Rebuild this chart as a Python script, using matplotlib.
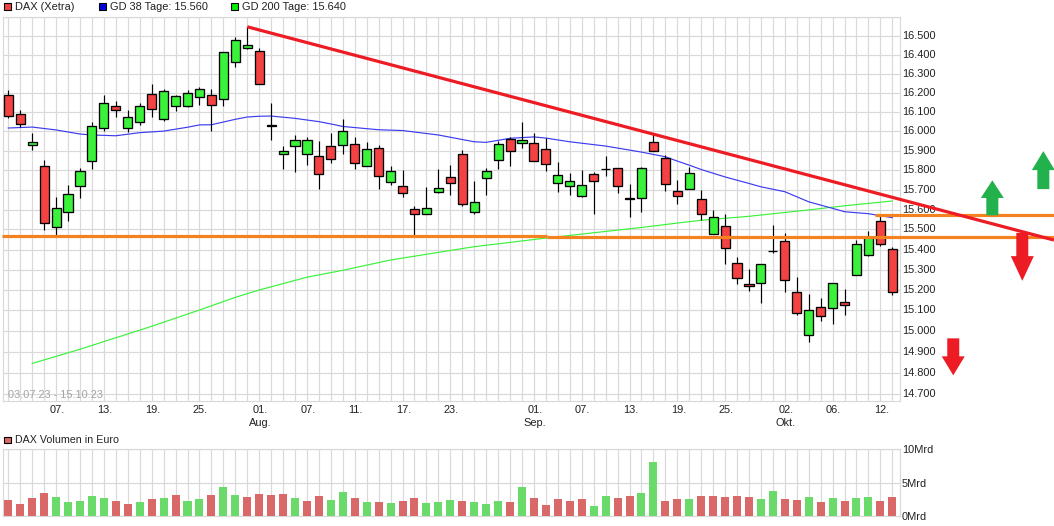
"""
DAX (Xetra) candlestick chart with moving averages, trend lines and volume panel.
Run: python plot.py  -> writes out.png
"""

import matplotlib
matplotlib.use("Agg")
import matplotlib.pyplot as plt
from matplotlib.patches import Polygon, Rectangle
from matplotlib.ticker import NullLocator
from matplotlib.transforms import ScaledTranslation

plt.rcParams["font.family"] = ["Liberation Sans", "DejaVu Sans"]

opens = [16189, 16087, 15930, 15819, 15514, 15586, 15717, 15845, 16015, 16128,
         16015, 16046, 16191, 16061, 16128, 16128, 16176, 16186, 16165, 16359,
         16436, 16417, 16030, 15881, 15922, 15881, 15870, 15922, 15927, 15932,
         15819, 15911, 15738, 15717, 15601, 15576, 15687, 15763, 15881, 15586,
         15758, 15850, 15958, 15940, 15937, 15906, 15732, 15717, 15667, 15781,
         15805, 15809, 15656, 15658, 15942, 15860, 15692, 15705, 15652, 15476,
         15516, 15331, 15228, 15233, 15395, 15441, 15189, 14980, 15116, 15110,
         15143, 15272, 15371, 15541, 15401]
closes = [16080, 16038, 15942, 15531, 15606, 15677, 15793, 16025, 16144, 16108,
          16072, 16128, 16113, 16207, 16181, 16196, 16217, 16134, 16412, 16476,
          16449, 16243, 16026, 15896, 15953, 15953, 15781, 15855, 15999, 15834,
          15906, 15768, 15793, 15682, 15576, 15606, 15707, 15732, 15626, 15636,
          15793, 15932, 15896, 15953, 15845, 15829, 15773, 15743, 15722, 15745,
          15805, 15717, 15652, 15809, 15896, 15727, 15667, 15785, 15576, 15561,
          15406, 15258, 15218, 15327, 15391, 15248, 15086, 15101, 15072, 15233,
          15129, 15426, 15462, 15426, 15189]
highs = [16214, 16108, 15990, 15850, 15663, 15724, 15809, 16049, 16188, 16156,
         16108, 16144, 16245, 16217, 16188, 16214, 16228, 16217, 16412, 16492,
         16548, 16433, 16144, 15923, 15980, 15970, 15949, 15990, 16063, 15968,
         15944, 15927, 15820, 15800, 15618, 15712, 15804, 15824, 15902, 15744,
         15810, 15949, 15971, 16045, 15989, 15963, 15841, 15785, 15800, 15790,
         15872, 15809, 15729, 15815, 15989, 15877, 15750, 15815, 15698, 15597,
         15577, 15363, 15303, 15327, 15521, 15480, 15264, 15180, 15161, 15233,
         15203, 15447, 15492, 15567, 15412]
lows = [16069, 16021, 15904, 15498, 15472, 15544, 15660, 15805, 16002, 16075,
        15997, 16033, 16075, 16054, 16106, 16123, 16137, 16002, 16131, 16336,
        16431, 16243, 15956, 15807, 15789, 15827, 15705, 15834, 15882, 15804,
        15819, 15705, 15725, 15665, 15472, 15576, 15682, 15675, 15619, 15579,
        15675, 15807, 15823, 15914, 15845, 15795, 15688, 15675, 15662, 15579,
        15771, 15685, 15564, 15589, 15896, 15695, 15630, 15702, 15547, 15476,
        15328, 15231, 15197, 15138, 15384, 15192, 15077, 14949, 15051, 15036,
        15080, 15272, 15366, 15416, 15177]

volumes = [2.44, 1.84, 2.74, 3.48, 2.89, 2.14, 2.29, 3.03, 2.74, 2.29,
           1.84, 2.14, 2.59, 2.74, 3.18, 2.29, 2.59, 3.18, 4.38, 3.18,
           2.89, 3.33, 3.18, 3.33, 2.74, 2.29, 3.03, 2.44, 3.63, 2.74,
           2.14, 2.14, 1.99, 2.29, 2.74, 1.99, 2.14, 2.44, 2.29, 2.14,
           1.84, 2.29, 2.14, 4.38, 2.74, 1.69, 2.59, 2.29, 2.59, 1.54,
           3.03, 2.74, 3.03, 3.48, 8.11, 2.29, 2.59, 2.59, 3.03, 3.03,
           2.89, 3.03, 2.89, 2.59, 3.78, 2.59, 2.44, 2.89, 2.14, 2.74,
           2.29, 2.74, 2.89, 2.29, 2.89]
volume_sides = "rrrrgggggrrgrgrggrggrrrrgrrggrgrgrrgggrgggrgrrrrrggrrggrrgrrrrrggrrgrgrggrr"

gd38_idx = [0, 2, 4, 6, 7, 9, 11, 13, 15, 16, 17, 19, 20, 21, 22, 24, 26, 27, 28, 31, 33,
            36, 39, 40, 42, 44, 45, 47, 50, 53, 55, 56, 57, 58, 60, 62, 63, 65, 67, 69,
            70, 72, 74]
gd38 = [16016, 16021, 16006, 15985, 15980, 15976, 15992, 16000, 16020, 16032, 16033,
        16061, 16073, 16077, 16078, 16066, 16049, 16037, 16024, 16007, 16003, 15980,
        15945, 15942, 15963, 15970, 15964, 15945, 15923, 15892, 15868, 15846, 15825,
        15803, 15765, 15732, 15715, 15690, 15639, 15606, 15589, 15579, 15559]

gd200_idx = [2, 6, 8, 12, 16, 19, 21, 25, 28, 32, 39, 45, 53, 56, 58, 62, 67, 70, 74]
gd200 = [14844, 14912, 14949, 15023, 15102, 15164, 15200, 15263, 15297, 15348, 15414,
         15457, 15510, 15532, 15546, 15566, 15598, 15619, 15643]

# (start index, start price, end index, end price)
trend_red = (20.0, 16548, 87.53, 15447)
support_left = (-0.49, 15466, 45.1, 15466)
support_right = (45.1, 15461, 87.53, 15461)
resistance = (72.55, 15571, 87.53, 15571)

# (index, tip price, colour, pointing up, head length px, shaft length px)
signal_arrows = [
    (82.37, 15748, "#22b14c", True, 17.7, 17.3),
    (86.64, 15897, "#22b14c", True, 19.0, 19.0),
    (84.88, 15245, "#ed1c24", False, 24.7, 23.3),
    (79.10, 14787, "#ed1c24", False, 19.0, 18.0),
]

date_idx = [4, 8, 12, 16, 21, 25, 29, 33, 37, 44, 48, 52, 56, 60, 65, 69, 73]
date_labels = ["07.", "13.", "19.", "25.", "01.\nAug.", "07.", "11.", "17.", "23.",
               "01.\nSep.", "07.", "13.", "19.", "25.", "02.\nOkt.", "06.", "12."]

price_ticks = list(range(14700, 16700, 100))
volume_ticks = [0, 5, 10]
volume_tick_labels = ["0Mrd", "5Mrd", "10Mrd"]

GRID = "#d9d9d9"
TEXT = "#222222"
W, H = 1054, 526


def panel(fig, left, top, right, bottom):
    # pixel box of the reference -> figure fractions
    ax = fig.add_axes([left / W, 1 - bottom / H, (right - left) / W, (bottom - top) / H])
    n = len(opens)
    ax.set_xlim(-0.486, 74.6)
    ax.set_xticks(range(n))
    ax.grid(True, color=GRID, linewidth=0.85)
    ax.set_axisbelow(True)
    for s in ax.spines.values():
        s.set_color(GRID)
        s.set_linewidth(0.85)
    ax.yaxis.tick_right()
    ax.tick_params(length=0, labelsize=7.9, labelcolor=TEXT, pad=2)
    return ax


def legend_key(fig, x, y, color, label, size=7.9):
    fig.add_artist(Rectangle((x / W, 1 - (y + 3.3) / H), 7 / W, 6.6 / H, transform=fig.transFigure,
                             facecolor=color, edgecolor="black", linewidth=0.8))
    fig.text((x + 11.5) / W, 1 - y / H, label, fontsize=size, color=TEXT, va="center", ha="left")


def draw_segment(ax, seg, color, width, z):
    ax.plot([seg[0], seg[2]], [seg[1], seg[3]], color=color, linewidth=width,
            solid_capstyle="butt", clip_on=False, zorder=z)


def draw_arrow(fig, ax, idx, tip, color, up, head, shaft):
    x, y = ax.transData.transform((idx, tip))
    s = -1 if up else 1
    head_half, shaft_half = 11.5, 6
    pts = [(x, y), (x - head_half, y + s * head), (x - shaft_half, y + s * head),
           (x - shaft_half, y + s * (head + shaft)), (x + shaft_half, y + s * (head + shaft)),
           (x + shaft_half, y + s * head), (x + head_half, y + s * head)]
    fig.add_artist(Polygon(pts, closed=True, transform=None, facecolor=color, edgecolor="none"))


def nudge(labels, fig, dx, dy):
    # shift tick labels by whole pixels
    shift = ScaledTranslation(dx / 100, dy / 100, fig.dpi_scale_trans)
    for lbl in labels:
        lbl.set_transform(lbl.get_transform() + shift)


fig = plt.figure(figsize=(W / 100, H / 100), dpi=100, facecolor="white")

# price panel
ax = panel(fig, 2.5, 16.7, 899.5, 401)
ax.set_yscale("log")
ax.set_ylim(14665, 16602)
ax.yaxis.set_minor_locator(NullLocator())
ax.set_yticks(price_ticks)
ax.set_yticklabels([f"{p:,}".replace(",", ".") if p < 16600 else "" for p in price_ticks])
ax.yaxis.set_minor_locator(NullLocator())
ax.set_xticklabels([date_labels[date_idx.index(i)] if i in date_idx else "" for i in range(len(opens))],
                   linespacing=1.36)
ax.tick_params(axis="x", pad=2.7)
nudge(ax.get_xticklabels(), fig, 1, 0)
nudge(ax.get_yticklabels(), fig, -0.5, 1)

ax.plot(gd200_idx, gd200, color="#3af23a", linewidth=0.85, zorder=2)
ax.plot(gd38_idx, gd38, color="#3c3cf0", linewidth=0.85, zorder=2)

x = list(range(len(opens)))
ax.vlines(x, lows, highs, color="black", linewidth=0.85, zorder=3)
body_low = [min(o, c) for o, c in zip(opens, closes)]
body_height = [abs(c - o) for o, c in zip(opens, closes)]
body_color = ["#3af23a" if c > o else "#f44242" for o, c in zip(opens, closes)]
ax.bar(x, body_height, bottom=body_low, width=0.76, color=body_color, edgecolor="black",
       linewidth=0.95, zorder=4)

draw_segment(ax, support_left, "#f58220", 2.3, 5)
draw_segment(ax, support_right, "#f58220", 2.3, 5)
draw_segment(ax, resistance, "#f58220", 2.3, 5)
draw_segment(ax, trend_red, "#ed1c24", 2.3, 6)

ax.text(0.006, 0.0156, "03.07.23 - 15.10.23", transform=ax.transAxes, fontsize=7.9,
        color="#a4a4a4", va="center", ha="left", zorder=7)

# volume panel
vol = panel(fig, 2.5, 449.3, 899.5, 516.3)
vol.set_ylim(0, 10)
vol.set_yticks(volume_ticks)
vol.set_yticklabels(volume_tick_labels)
vol.tick_params(labelbottom=False)
nudge(vol.get_yticklabels(), fig, -0.5, 0)
vol.bar(x, volumes, width=0.67, color=["#d96868" if s == "r" else "#6adb6a" for s in volume_sides],
        zorder=3)

legend_key(fig, 3.5, 6.5, "#f44242", "DAX (Xetra)")
legend_key(fig, 99, 6.5, "#0000e0", "GD 38 Tage: 15.560")
legend_key(fig, 231, 6.5, "#00ee00", "GD 200 Tage: 15.640")
legend_key(fig, 3.5, 440, "#d96868", "DAX Volumen in Euro", size=7.7)

for idx, tip, color, up, head, shaft in signal_arrows:
    draw_arrow(fig, ax, idx, tip, color, up, head, shaft)

fig.savefig("out.png", dpi=100)
plt.close(fig)
